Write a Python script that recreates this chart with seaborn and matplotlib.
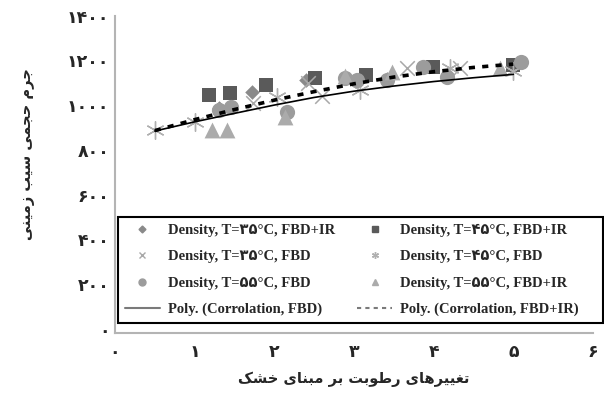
import matplotlib
matplotlib.use("Agg")
import matplotlib.pyplot as plt
from matplotlib.lines import Line2D
import seaborn as sns
import numpy as np

# ---------------- data ----------------
x35_ir = [1.30, 1.72, 2.40, 3.41, 4.17]
y35_ir = [985, 1058, 1110, 1115, 1130]

x45_ir = [1.18, 1.44, 1.89, 2.51, 3.15, 3.99, 5.00]
y45_ir = [1045, 1054, 1089, 1120, 1134, 1170, 1179]

x35_fbd = [1.73, 2.42, 2.60, 3.66, 4.33]
y35_fbd = [1009, 1098, 1040, 1165, 1165]

x45_fbd = [0.50, 1.00, 2.03, 3.07, 4.20, 5.00]
y45_fbd = [888, 925, 1036, 1067, 1165, 1150]

x55_fbd = [1.30, 1.45, 2.16, 2.89, 3.04, 3.41, 3.86, 4.17, 5.10]
y55_fbd = [978, 990, 969, 1120, 1112, 1112, 1170, 1125, 1192]

x55_ir = [1.22, 1.40, 2.13, 2.89, 3.48, 4.83]
y55_ir = [888, 888, 946, 1130, 1147, 1165]

trend_x = [0.5, 1.0, 1.5, 2.0, 2.5, 3.0, 3.5, 4.0, 4.5, 5.0]
trend_fbd = [884, 925, 963, 1000, 1034, 1062, 1085, 1105, 1122, 1137]
trend_ir = [886, 935, 980, 1022, 1060, 1095, 1125, 1149, 1168, 1183]

x_ticks = [0, 1, 2, 3, 4, 5, 6]
y_ticks = [0, 200, 400, 600, 800, 1000, 1200, 1400]

legend_labels = [
    "Density, T=۳۵°C, FBD+IR",
    "Density, T=۳۵°C, FBD",
    "Density, T=۵۵°C, FBD",
    "Poly. (Corrolation, FBD)",
    "Density, T=۴۵°C, FBD+IR",
    "Density, T=۴۵°C, FBD",
    "Density, T=۵۵°C, FBD+IR",
    "Poly. (Corrolation, FBD+IR)",
]
x_label_raw = "تغییرهای رطوبت بر مبنای خشک"
y_label_raw = "جرم حجمی سیب زمینی"

# ------------- Persian shaping -------------
FORMS = {
    '\u0627': ('\uFE8D', '\uFE8E', None, None),
    '\u0628': ('\uFE8F', '\uFE90', '\uFE91', '\uFE92'),
    '\u062A': ('\uFE95', '\uFE96', '\uFE97', '\uFE98'),
    '\u062C': ('\uFE9D', '\uFE9E', '\uFE9F', '\uFEA0'),
    '\u062D': ('\uFEA1', '\uFEA2', '\uFEA3', '\uFEA4'),
    '\u062E': ('\uFEA5', '\uFEA6', '\uFEA7', '\uFEA8'),
    '\u0631': ('\uFEAD', '\uFEAE', None, None),
    '\u0632': ('\uFEAF', '\uFEB0', None, None),
    '\u0633': ('\uFEB1', '\uFEB2', '\uFEB3', '\uFEB4'),
    '\u0634': ('\uFEB5', '\uFEB6', '\uFEB7', '\uFEB8'),
    '\u0637': ('\uFEC1', '\uFEC2', '\uFEC3', '\uFEC4'),
    '\u063A': ('\uFECD', '\uFECE', '\uFECF', '\uFED0'),
    '\u0645': ('\uFEE1', '\uFEE2', '\uFEE3', '\uFEE4'),
    '\u0646': ('\uFEE5', '\uFEE6', '\uFEE7', '\uFEE8'),
    '\u0647': ('\uFEE9', '\uFEEA', '\uFEEB', '\uFEEC'),
    '\u0648': ('\uFEED', '\uFEEE', None, None),
    '\u06CC': ('\uFBFC', '\uFBFD', '\uFBFE', '\uFBFF'),
    '\u06A9': ('\uFB8E', '\uFB8F', '\uFB90', '\uFB91'),
}


def shape(s):
    out = []
    for i, c in enumerate(s):
        if c not in FORMS:
            out.append(c)
            continue
        prev = s[i - 1] if i > 0 else None
        nxt = s[i + 1] if i + 1 < len(s) else None
        jp = prev in FORMS and FORMS[prev][2] is not None
        jn = FORMS[c][2] is not None and nxt in FORMS
        iso, fin, ini, med = FORMS[c]
        if jp and jn:
            out.append(med)
        elif jp:
            out.append(fin)
        elif jn:
            out.append(ini)
        else:
            out.append(iso)
    return ''.join(reversed(out))


PDIG = str.maketrans('0123456789', '۰۱۲۳۴۵۶۷۸۹')


def fa_num(v):
    return str(v).translate(PDIG)


# ---------------- plot ----------------
sns.set_style("white")
plt.rcParams['font.family'] = ['DejaVu Sans']

fig = plt.figure(figsize=(6.04, 3.96), dpi=100)
ax = fig.add_axes([115 / 604, (396 - 333) / 396, (593 - 115) / 604, (333 - 15.5) / 396])

c_d35 = '#8a8a8a'
c_s45 = '#5a5a5a'
c_x35 = '#a8a8a8'
c_st45 = '#b0b0b0'
c_o55 = '#9c9c9c'
c_t55 = '#ababab'

sns.scatterplot(x=x35_ir, y=y35_ir, marker='D', s=55, color=c_d35, linewidth=0, ax=ax, zorder=2)
sns.scatterplot(x=x45_ir, y=y45_ir, marker='s', s=110, color=c_s45, linewidth=0, ax=ax, zorder=2)
sns.scatterplot(x=x35_fbd, y=y35_fbd, marker='x', s=110, color=c_x35, linewidth=1.1, ax=ax, zorder=2)
sns.scatterplot(x=x45_fbd, y=y45_fbd, marker=(6, 2, 0), s=160, color=c_st45, linewidth=1.0, ax=ax, zorder=2)
sns.scatterplot(x=x55_fbd, y=y55_fbd, marker='o', s=120, color=c_o55, linewidth=0, ax=ax, zorder=2)
sns.scatterplot(x=x55_ir, y=y55_ir, marker='^', s=130, color=c_t55, linewidth=0, ax=ax, zorder=2)

sns.lineplot(x=trend_x, y=trend_fbd, color='black', linewidth=1.2, ax=ax, zorder=3)
sns.lineplot(x=trend_x, y=trend_ir, color='black', linewidth=2.6,
             linestyle=(0, (1.7, 2.0)), ax=ax, zorder=3)

ax.set_xlim(0, 6)
ax.set_ylim(-18, 1400)
ax.set_xticks(x_ticks)
ax.set_xticklabels([fa_num(v) for v in x_ticks])
ax.set_yticks(y_ticks)
ax.set_yticklabels([fa_num(v) for v in y_ticks])
ax.tick_params(axis='both', length=0, labelsize=12.5)
ax.tick_params(axis='x', pad=7)
ax.tick_params(axis='y', pad=4)
for lab in ax.get_xticklabels() + ax.get_yticklabels():
    lab.set_fontweight('bold')

for sp in ['top', 'right']:
    ax.spines[sp].set_visible(False)
for sp in ['left', 'bottom']:
    ax.spines[sp].set_color('#b4b4b4')
    ax.spines[sp].set_linewidth(1.5)

ax.set_xlabel(shape(x_label_raw), fontsize=10.5, fontweight='bold', labelpad=8)
ax.set_ylabel(shape(y_label_raw), fontsize=10.5, fontweight='bold')
ax.yaxis.set_label_coords(-0.168, 0.565)

handles = [
    Line2D([], [], marker='D', color=c_d35, linestyle='none', markersize=3.5),
    Line2D([], [], marker='x', color=c_x35, linestyle='none', markersize=4.5, markeredgewidth=1),
    Line2D([], [], marker='o', color=c_o55, linestyle='none', markersize=5),
    Line2D([], [], color='#7a7a7a', linewidth=1.5),
    Line2D([], [], marker='s', color=c_s45, linestyle='none', markersize=5),
    Line2D([], [], marker=(6, 2, 0), color=c_st45, linestyle='none', markersize=5, markeredgewidth=1),
    Line2D([], [], marker='^', color=c_t55, linestyle='none', markersize=5),
    Line2D([], [], color='#7a7a7a', linewidth=1.5, linestyle=(0, (2, 2))),
]
leg = ax.legend(handles, legend_labels, loc='lower left', ncol=2, mode='expand',
                bbox_to_anchor=(0.0063, 0.0315, 1.0146, 0.346), borderaxespad=0,
                prop={'family': ['Liberation Serif', 'DejaVu Sans'], 'weight': 'bold', 'size': 10.5},
                frameon=True, fancybox=False, framealpha=1, edgecolor='black',
                borderpad=0.45, labelspacing=0.9, handlelength=2.4, handletextpad=0.55,
                columnspacing=1.55)
# keep the frame at full width but pack the columns from the left
leg._legend_handle_box.mode = 'fixed'
leg._legend_box.align = 'left'
leg.get_frame().set_linewidth(1.5)
leg.set_zorder(5)

fig.savefig('out.png', dpi=100)
